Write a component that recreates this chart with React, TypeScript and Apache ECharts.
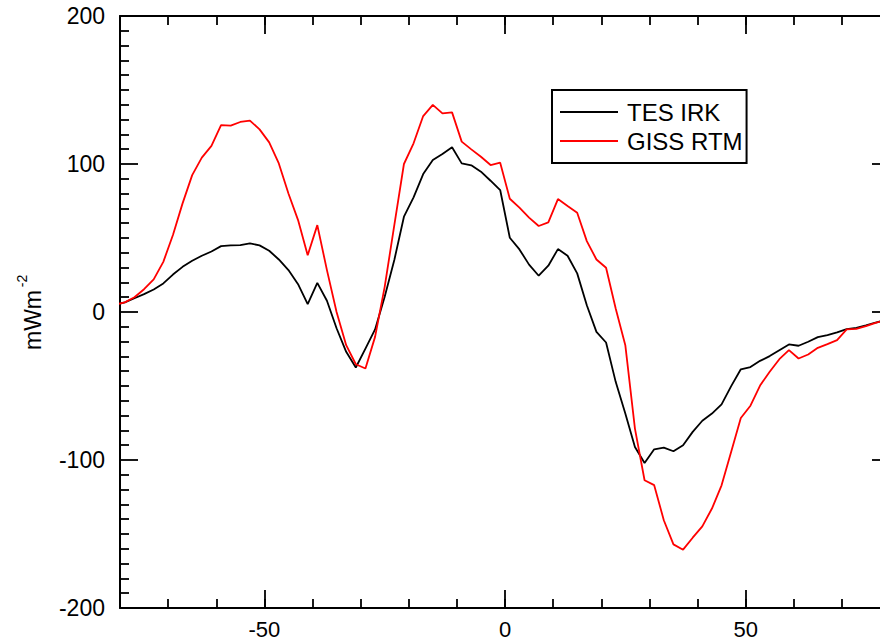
import React, { useEffect, useRef } from 'react';
import * as echarts from 'echarts';

const latitudes = [
  -81, -79, -77, -75, -73, -71, -69, -67, -65, -63, -61, -59, -57, -55, -53, -51, -49, -47, -45, -43, -41,
  -39, -37, -35, -33, -31, -29, -27, -25, -23, -21, -19, -17, -15, -13, -11, -9, -7, -5, -3, -1,
  1, 3, 5, 7, 9, 11, 13, 15, 17, 19, 21, 23, 25, 27, 29, 31, 33, 35, 37, 39,
  41, 43, 45, 47, 49, 51, 53, 55, 57, 59, 61, 63, 65, 67, 69, 71, 73, 75, 77, 79, 81,
];

const tesIrk = [
  5.0, 6.5, 9.3, 12.1, 15.2, 19.3, 25.3, 30.5, 34.6, 38.0, 40.9, 44.5, 45.0, 45.2, 46.3, 45.0, 41.4, 35.5, 28.3, 18.8, 5.3,
  19.7, 7.6, -11.0, -26.9, -37.5, -24.7, -11.8, 10.3, 35.1, 64.4, 77.5, 93.2, 102.7, 106.8, 111.3, 100.4, 99.1, 94.8, 88.7, 82.4,
  50.2, 42.3, 32.0, 24.5, 31.3, 42.5, 38.0, 26.1, 4.6, -13.4, -20.6, -47.2, -68.6, -91.2, -102.0, -92.8, -91.7, -94.1, -90.0, -81.0,
  -73.5, -68.6, -62.4, -50.1, -38.7, -37.2, -33.0, -29.8, -25.8, -21.9, -22.8, -20.1, -17.0, -15.6, -13.8, -11.6, -10.7, -9.1, -7.1, -5.6, -4.5,
];

const gissRtm = [
  5.0, 6.5, 10.0, 15.4, 22.0, 33.9, 52.0, 73.4, 92.5, 104.3, 112.2, 126.3, 125.9, 128.4, 129.3, 123.4, 114.6, 100.4, 80.1, 62.1, 38.4,
  58.7, 28.3, 0.0, -22.4, -35.3, -38.2, -16.8, 17.0, 58.7, 100.0, 114.0, 132.4, 139.9, 134.2, 134.9, 115.1, 109.9, 104.9, 99.3, 100.9,
  76.5, 70.5, 63.8, 58.1, 60.5, 76.3, 71.6, 67.1, 47.9, 35.5, 29.9, 2.4, -22.4, -78.8, -113.7, -117.0, -140.7, -157.0, -160.6, -152.5,
  -144.8, -132.8, -117.1, -94.5, -71.6, -63.3, -49.7, -40.4, -31.9, -25.8, -31.4, -28.7, -24.2, -21.7, -19.0, -11.8, -11.4, -9.6, -7.3, -5.6, -4.5,
];

const xMajorTicks = [-50, 0, 50];
const seriesNames = ['TES IRK', 'GISS RTM'];
const seriesColors = ['#000000', '#ff0000'];
const yTitle = 'mWm';
const yTitleSup = '-2';

const FONT = '"Liberation Sans", Arial, Helvetica, sans-serif';

export default function App() {
  const ref = useRef<HTMLDivElement>(null);

  useEffect(() => {
    if (!ref.current) return;
    const chart = echarts.init(ref.current, null, { renderer: 'svg' });

    const axisLineStyle = { color: '#000', width: 2 };
    const tickStyle = { color: '#000', width: 1.8 };
    const labelStyle = { color: '#000', fontSize: 23, fontFamily: FONT };

    const minorX = (position: string) => ({
      type: 'value',
      position,
      min: -80,
      max: 80,
      interval: 10,
      axisLine: { show: true, onZero: false, lineStyle: axisLineStyle },
      axisTick: { show: true, inside: true, length: 9, lineStyle: tickStyle },
      axisLabel: { show: false },
      splitLine: { show: false },
    });
    const majorX = (position: string, labels: boolean) => ({
      type: 'value',
      position,
      min: -80,
      max: 80,
      interval: 10,
      axisLine: { show: false, onZero: false },
      axisTick: { show: true, inside: true, length: 18, customValues: xMajorTicks, lineStyle: tickStyle },
      axisLabel: labels
        ? {
            show: true,
            customValues: xMajorTicks,
            margin: 13,
            lineHeight: 16,
            color: '#000',
            fontSize: 22,
            fontFamily: FONT,
          }
        : { show: false },
      splitLine: { show: false },
    });
    const yAx = (position: string, labels: boolean) => ({
      type: 'value',
      position,
      min: -200,
      max: 200,
      interval: 100,
      axisLine: { show: true, onZero: false, lineStyle: axisLineStyle },
      axisTick: { show: true, inside: true, length: 18, lineStyle: tickStyle },
      minorTick: { show: true, splitNumber: 10, length: 9, lineStyle: tickStyle },
      axisLabel: labels
        ? { show: true, margin: 15, padding: [9, 0, 0, 0], ...labelStyle }
        : { show: false },
      splitLine: { show: false },
      minorSplitLine: { show: false },
    });

    const makeData = (vals: number[]) => latitudes.map((lat, i) => [lat, vals[i]]);

    chart.setOption({
      animation: false,
      backgroundColor: '#ffffff',
      grid: {
        left: 120,
        top: 16,
        width: 770,
        height: 592,
        containLabel: false,
        outerBoundsMode: 'none',
      },
      xAxis: [minorX('bottom'), majorX('bottom', true), minorX('top'), majorX('top', false)],
      yAxis: [yAx('left', true), yAx('right', false)],
      legend: {
        orient: 'vertical',
        left: 552,
        top: 90,
        data: seriesNames.map((n) => ({ name: n, icon: 'rect' })),
        itemWidth: 58,
        itemHeight: 2,
        itemGap: 5,
        padding: [10, 4, 10, 8],
        borderColor: '#000',
        borderWidth: 2,
        backgroundColor: '#fff',
        itemStyle: { borderWidth: 0 },
        textStyle: { fontSize: 24, color: '#000', fontFamily: FONT, padding: [0, 0, 0, 4] },
      },
      graphic: [
        {
          type: 'text',
          x: 33,
          y: 320,
          rotation: Math.PI / 2,
          style: {
            text: yTitle,
            fontSize: 23,
            fontFamily: FONT,
            fill: '#000',
            align: 'center',
            verticalAlign: 'middle',
            textAlign: 'center',
            textVerticalAlign: 'middle',
          },
        },
        {
          type: 'text',
          x: 22,
          y: 281,
          rotation: Math.PI / 2,
          style: {
            text: yTitleSup,
            fontSize: 14,
            fontFamily: FONT,
            fill: '#000',
            align: 'center',
            verticalAlign: 'middle',
            textAlign: 'center',
            textVerticalAlign: 'middle',
          },
        },
      ],
      series: [
        {
          name: seriesNames[0],
          type: 'line',
          xAxisIndex: 0,
          yAxisIndex: 0,
          data: makeData(tesIrk),
          symbol: 'none',
          clip: true,
          lineStyle: { color: seriesColors[0], width: 1.8 },
          itemStyle: { color: seriesColors[0] },
        },
        {
          name: seriesNames[1],
          type: 'line',
          xAxisIndex: 0,
          yAxisIndex: 0,
          data: makeData(gissRtm),
          symbol: 'none',
          clip: true,
          lineStyle: { color: seriesColors[1], width: 1.8 },
          itemStyle: { color: seriesColors[1] },
        },
      ],
    });

    return () => chart.dispose();
  }, []);

  return (
    <div
      ref={ref}
      style={{ position: 'fixed', left: 0, top: 0, width: 880, height: 641, background: '#fff' }}
    />
  );
}
